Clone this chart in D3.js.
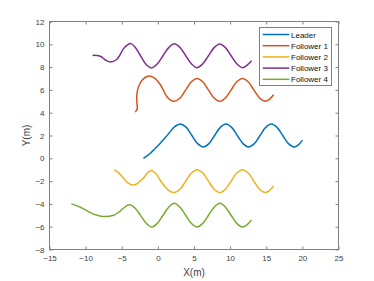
<!DOCTYPE html>
<html><head><meta charset="utf-8">
<script src="https://cdn.jsdelivr.net/npm/d3@7"></script>
<style>
html,body{margin:0;padding:0;background:#fff;}
svg{display:block;font-family:"Liberation Sans",Arial,Helvetica,sans-serif;}
</style></head>
<body><svg id="c" width="374" height="281"></svg>
<script>
const xTicks = [-15,-10,-5,0,5,10,15,20,25];
const yTicks = [-8,-6,-4,-2,0,2,4,6,8,10,12];
const seriesNames = ["Leader","Follower 1","Follower 2","Follower 3","Follower 4"];
const colors = ["#0072BD","#D95319","#EDB120","#7E2F8E","#77AC30"];

const leader = [[-2,0],[-1.5,0.22],[-1,0.47],[-0.5,0.78],[0,1.1],[0.5,1.45],[1,1.8],[1.6,2.25],[2.2,2.7],[2.7,2.92],[3.14,3],[3.93,2.71],[4.71,2],[5.5,1.29],[6.28,1],[7.07,1.29],[7.85,2],[8.64,2.71],[9.42,3],[10.21,2.71],[11,2],[11.78,1.29],[12.57,1],[13.35,1.29],[14.14,2],[14.92,2.71],[15.71,3],[16.49,2.71],[17.28,2],[18.06,1.29],[18.85,1],[19.45,1.18],[20,1.59]];
const follower1 = [[-3.14,4.05],[-2.86,4.35],[-2.88,4.75],[-2.93,5.2],[-2.88,5.75],[-2.68,6.27],[-2.2,6.85],[-1.3,7.22],[-0.5,7.05],[0.3,6.5],[1.23,5.42],[1.75,5.1],[2.28,5],[3.07,5.29],[3.85,6],[4.64,6.71],[5.42,7],[6.21,6.71],[7,6],[7.78,5.29],[8.57,5],[9.35,5.29],[10.14,6],[10.92,6.71],[11.71,7],[12.5,6.71],[13.28,6],[14.07,5.29],[14.85,5],[15.45,5.17],[16,5.57]];
const follower2 = [[-6.03,-1.02],[-5.4,-1.3],[-4.75,-1.75],[-4.05,-2.2],[-3.37,-2.35],[-2.65,-2.12],[-1.99,-1.72],[-1.4,-1.25],[-0.84,-1.06],[-0.25,-1.35],[0.31,-1.9],[1.0,-2.5],[1.69,-2.9],[2.28,-3],[3.07,-2.71],[3.85,-2],[4.64,-1.29],[5.42,-1],[6.21,-1.29],[7,-2],[7.78,-2.71],[8.57,-3],[9.35,-2.71],[10.14,-2],[10.92,-1.29],[11.71,-1],[12.5,-1.29],[13.28,-2],[14.07,-2.71],[14.85,-3],[15.45,-2.83],[16,-2.42]];
const follower3 = [[-9.03,9.04],[-7.97,8.95],[-7.2,8.6],[-6.59,8.45],[-5.67,8.69],[-4.75,9.62],[-4.2,9.95],[-3.74,10.06],[-3.1,9.7],[-2.45,9.04],[-1.53,8.16],[-0.86,7.93],[-0.07,8.29],[0.71,9],[1.5,9.71],[2.28,10.05],[3.07,9.72],[3.85,9],[4.64,8.29],[5.42,7.95],[6.21,8.29],[7,9],[7.78,9.71],[8.57,10.03],[9.35,9.71],[10.14,9],[10.92,8.29],[11.71,7.95],[12.4,8.2],[12.98,8.55]];
const follower4 = [[-11.97,-4.0],[-10.72,-4.29],[-9.34,-4.76],[-8.4,-5.0],[-7.5,-5.11],[-6.13,-4.99],[-5.4,-4.72],[-4.75,-4.37],[-4.25,-4.13],[-3.83,-4.07],[-3.1,-4.4],[-2.45,-4.96],[-1.53,-5.75],[-0.86,-6.03],[-0.07,-5.71],[0.71,-5],[1.5,-4.29],[2.28,-3.95],[3.07,-4.29],[3.85,-5],[4.64,-5.71],[5.42,-6.03],[6.21,-5.71],[7,-5],[7.78,-4.29],[8.57,-3.95],[9.35,-4.29],[10.14,-5],[10.92,-5.71],[11.71,-6.03],[12.4,-5.8],[12.95,-5.4]];

const series = [leader, follower1, follower2, follower3, follower4];

const svg = d3.select("#c");
const L = 49.5, R = 338.5, T = 21.5, B = 249.5;
const x = d3.scaleLinear().domain([-15,25]).range([L,R]);
const y = d3.scaleLinear().domain([-8,12]).range([B,T]);
const axisCol = "#808080", textCol = "#404040";

// axes
const gx = svg.append("g").attr("transform",`translate(0,${B})`)
  .call(d3.axisBottom(x).tickValues(xTicks).tickSizeInner(-3).tickSizeOuter(0).tickPadding(6));
const gxt = svg.append("g").attr("transform",`translate(0,${T})`)
  .call(d3.axisTop(x).tickValues(xTicks).tickSizeInner(-3).tickSizeOuter(0).tickFormat(""));
const gy = svg.append("g").attr("transform",`translate(${L},0)`)
  .call(d3.axisLeft(y).tickValues(yTicks).tickSizeInner(-3).tickSizeOuter(0).tickPadding(5));
const gyr = svg.append("g").attr("transform",`translate(${R},0)`)
  .call(d3.axisRight(y).tickValues(yTicks).tickSizeInner(-3).tickSizeOuter(0).tickFormat(""));
[gx,gxt,gy,gyr].forEach(g=>{
  g.select(".domain").remove();
  g.selectAll(".tick line").attr("stroke",axisCol);
  g.selectAll(".tick text").attr("fill",textCol).style("font-size","8px")
   .style("font-family","'Liberation Sans',Arial,sans-serif");
});
svg.append("rect").attr("x",L).attr("y",T).attr("width",R-L).attr("height",B-T)
  .attr("fill","none").attr("stroke",axisCol).attr("stroke-width",1);

// lines
const line = d3.line().x(d=>x(d[0])).y(d=>y(d[1])).curve(d3.curveCatmullRom.alpha(0.5));
series.forEach((s,i)=>{
  svg.append("path").datum(s).attr("d",line).attr("fill","none")
    .attr("stroke",colors[i]).attr("stroke-width",1.5).attr("stroke-linejoin","round");
});

// axis labels
svg.append("text").attr("x",(L+R)/2).attr("y",275.5).attr("text-anchor","middle")
  .attr("fill",textCol).style("font-size","10px").text("X(m)");
svg.append("text").attr("transform",`translate(30,${(T+B)/2}) rotate(-90)`).attr("text-anchor","middle")
  .attr("fill",textCol).style("font-size","10px").text("Y(m)");

// legend
const lg = svg.append("g");
lg.append("rect").attr("x",259.5).attr("y",27.5).attr("width",72).attr("height",58)
  .attr("fill","#fff").attr("stroke",axisCol);
seriesNames.forEach((n,i)=>{
  const yy = 34.5 + i*11.2;
  lg.append("line").attr("x1",262.7).attr("x2",289.3).attr("y1",yy).attr("y2",yy)
    .attr("stroke",colors[i]).attr("stroke-width",1.5);
  lg.append("text").attr("x",291).attr("y",yy+3).attr("fill","#111")
    .style("font-size","8px").text(n);
});
</script></body></html>
